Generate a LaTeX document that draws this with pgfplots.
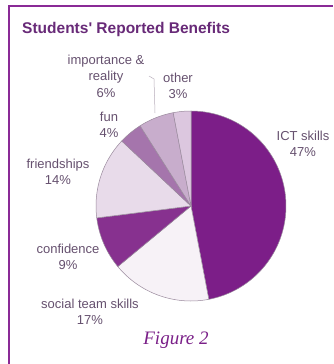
\documentclass[border=0pt]{standalone}
\usepackage{fontspec}
\setmainfont{Liberation Sans}
\newfontfamily\timesf{Liberation Serif}
\usepackage{pgfplots}
\pgfplotsset{compat=1.18}
\definecolor{ict}{HTML}{7C1E88}
\definecolor{social}{HTML}{F7F2F7}
\definecolor{confid}{HTML}{87318F}
\definecolor{friend}{HTML}{E8DBEA}
\definecolor{fun}{HTML}{A575AC}
\definecolor{impo}{HTML}{C8ADCC}
\definecolor{other}{HTML}{DCC7DF}
\definecolor{edge}{HTML}{9A8A9D}
\definecolor{lab}{HTML}{66516F}
\definecolor{titlec}{HTML}{682A78}
\definecolor{framec}{HTML}{8A2A96}
\definecolor{capc}{HTML}{7A1F88}
\begin{document}
\begin{tikzpicture}
\begin{axis}[
  width=333pt, height=364pt, scale only axis,
  xmin=0, xmax=333, ymin=0, ymax=364, y dir=reverse,
  hide axis, clip=false,
]
\fill[white] (axis cs:0,0) rectangle (axis cs:333,364);
% slices: cumulative percentages 0,47,64,73,87,91,97,100
\addplot[fill=ict, draw=edge, line width=0.5pt, domain={90-3.6*47}:{90-3.6*0}, samples=90, variable=\t]
  ({191+95*cos(\t)},{206-95*sin(\t)}) -- (axis cs:191,206) -- cycle;
\addplot[fill=social, draw=edge, line width=0.5pt, domain={90-3.6*64}:{90-3.6*47}, samples=40, variable=\t]
  ({191+95*cos(\t)},{206-95*sin(\t)}) -- (axis cs:191,206) -- cycle;
\addplot[fill=confid, draw=edge, line width=0.5pt, domain={90-3.6*73}:{90-3.6*64}, samples=30, variable=\t]
  ({191+95*cos(\t)},{206-95*sin(\t)}) -- (axis cs:191,206) -- cycle;
\addplot[fill=friend, draw=edge, line width=0.5pt, domain={90-3.6*87}:{90-3.6*73}, samples=40, variable=\t]
  ({191+95*cos(\t)},{206-95*sin(\t)}) -- (axis cs:191,206) -- cycle;
\addplot[fill=fun, draw=edge, line width=0.5pt, domain={90-3.6*91}:{90-3.6*87}, samples=20, variable=\t]
  ({191+95*cos(\t)},{206-95*sin(\t)}) -- (axis cs:191,206) -- cycle;
\addplot[fill=impo, draw=edge, line width=0.5pt, domain={90-3.6*97}:{90-3.6*91}, samples=20, variable=\t]
  ({191+95*cos(\t)},{206-95*sin(\t)}) -- (axis cs:191,206) -- cycle;
\addplot[fill=other, draw=edge, line width=0.5pt, domain={90-3.6*100}:{90-3.6*97}, samples=20, variable=\t]
  ({191+95*cos(\t)},{206-95*sin(\t)}) -- (axis cs:191,206) -- cycle;
% leader line
\draw[color=edge!70, line width=0.5pt] (axis cs:149,76) -- (axis cs:154,79) -- (axis cs:155,113);
% frame
\draw[framec, line width=2.2pt] (axis cs:9,364) -- (axis cs:9,6) -- (axis cs:333,6);
% title
\node[anchor=base west, text=titlec, font=\fontsize{15.5}{18}\selectfont\bfseries, inner sep=0pt] at (axis cs:22,33) {Students\textquotesingle{} Reported Benefits};
% labels
\begin{scope}[every node/.style={text=lab, font=\fontsize{13}{16.5}\selectfont, align=center, inner sep=0pt}]
\node at (axis cs:106,76) {importance \&\\reality\\6\%};
\node at (axis cs:178,86) {other\\3\%};
\node at (axis cs:109,125) {fun\\4\%};
\node at (axis cs:58,172) {friendships\\14\%};
\node at (axis cs:303,144) {ICT skills\\47\%};
\node at (axis cs:68,257) {confidence\\9\%};
\node at (axis cs:90,312) {social team skills\\17\%};
\end{scope}
\node[text=capc, font=\fontsize{19}{22}\selectfont\timesf\itshape, inner sep=0pt] at (axis cs:176,340) {Figure 2};
\end{axis}
\pgfresetboundingbox
\path (current axis.south west) rectangle (current axis.north east);
\end{tikzpicture}
\end{document}
